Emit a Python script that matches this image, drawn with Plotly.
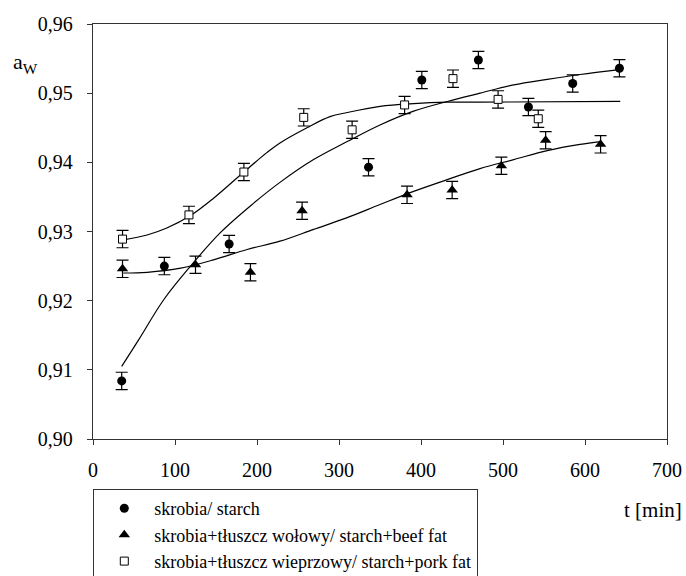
import plotly.graph_objects as go

FONT = "serif"

# measured points (mean) and error bars
starch_t = [35, 87, 166, 336, 401, 470, 531, 585, 642]
starch_aw = [0.9084, 0.9250, 0.9282, 0.9393, 0.9519, 0.9548, 0.9480, 0.9514, 0.9536]

beef_t = [36, 125, 192, 255, 383, 438, 498, 552, 619]
beef_aw = [0.9246, 0.9252, 0.9241, 0.9330, 0.9353, 0.9360, 0.9395, 0.9432, 0.9426]

pork_t = [36, 117, 184, 257, 316, 380, 439, 494, 543]
pork_aw = [0.9289, 0.9324, 0.9386, 0.9465, 0.9447, 0.9483, 0.9521, 0.9491, 0.9463]

err = 0.00125

# fitted curves
starch_fit_t = [35, 56, 86, 119, 155, 196, 228, 269, 310, 350, 391, 432, 472, 513, 554, 594, 642]
starch_fit_aw = [0.9105, 0.9144, 0.9201, 0.9250, 0.9298, 0.9341, 0.9371, 0.9404, 0.9430,
                 0.9454, 0.9474, 0.9488, 0.9500, 0.9512, 0.9520, 0.9527, 0.9534]

beef_fit_t = [37, 66, 107, 147, 188, 228, 269, 310, 350, 391, 432, 472, 513, 554, 594, 619]
beef_fit_aw = [0.9240, 0.9241, 0.9247, 0.9259, 0.9274, 0.9286, 0.9303, 0.9320, 0.9339,
               0.9358, 0.9375, 0.9391, 0.9404, 0.9417, 0.9426, 0.9430]

pork_fit_t = [37, 66, 90, 119, 147, 184, 212, 228, 261, 289, 310, 350, 391, 432, 472, 643]
pork_fit_aw = [0.9288, 0.9295, 0.9305, 0.9323, 0.9348, 0.9386, 0.9414, 0.9428, 0.9450,
               0.9466, 0.9472, 0.9481, 0.9485, 0.9487, 0.9487, 0.9488]

x_ticks = [0, 100, 200, 300, 400, 500, 600, 700]
y_ticks = [0.90, 0.91, 0.92, 0.93, 0.94, 0.95, 0.96]

labels = ["skrobia/ starch",
          "skrobia+tłuszcz wołowy/ starch+beef fat",
          "skrobia+tłuszcz wieprzowy/ starch+pork fat"]

fig = go.Figure()

line_style = dict(color="black", width=1.2, shape="spline", smoothing=1.0)
for ft, fa in [(starch_fit_t, starch_fit_aw), (beef_fit_t, beef_fit_aw), (pork_fit_t, pork_fit_aw)]:
    fig.add_trace(go.Scatter(x=ft, y=fa, mode="lines", line=line_style,
                             showlegend=False, hoverinfo="skip"))

eb = dict(type="constant", value=err, color="black", thickness=1.2, width=6)

fig.add_trace(go.Scatter(x=starch_t, y=starch_aw, mode="markers", name=labels[0],
                         marker=dict(symbol="circle", size=9, color="black"),
                         error_y=eb))
fig.add_trace(go.Scatter(x=beef_t, y=beef_aw, mode="markers", name=labels[1],
                         marker=dict(symbol="triangle-up", size=10, color="black"),
                         error_y=eb))
fig.add_trace(go.Scatter(x=pork_t, y=pork_aw, mode="markers", name=labels[2],
                         marker=dict(symbol="square", size=8, color="white",
                                     line=dict(color="black", width=1)),
                         error_y=eb))

axis_common = dict(showgrid=False, zeroline=False, showline=True, linecolor="#333",
                   linewidth=1.3, mirror=True, ticks="outside", ticklen=5,
                   tickcolor="#333", tickwidth=1.3,
                   tickfont=dict(family=FONT, size=20, color="black"))

fig.update_xaxes(range=[0, 700], tickvals=x_ticks, ticktext=[str(v) for v in x_ticks],
                 ticklabelstandoff=8, **axis_common)
fig.update_yaxes(range=[0.90, 0.96], tickvals=y_ticks,
                 ticktext=[f"{v:.2f}".replace(".", ",") for v in y_ticks],
                 ticklabelstandoff=10, **axis_common)

fig.add_annotation(text="a<sub>W</sub>", xref="paper", yref="paper",
                   x=-0.142, y=0.905, xanchor="left", yanchor="middle",
                   showarrow=False, font=dict(family=FONT, size=22, color="black"))
fig.add_annotation(text="t [min]", xref="paper", yref="paper",
                   x=1.03, y=-0.17, xanchor="right", yanchor="middle",
                   showarrow=False, font=dict(family=FONT, size=21, color="black"))

fig.update_layout(
    width=686, height=576,
    margin=dict(l=93, r=19, t=24, b=137, autoexpand=False),
    paper_bgcolor="white", plot_bgcolor="white",
    showlegend=True,
    legend=dict(x=0, y=-0.12, xanchor="left", yanchor="top",
                bordercolor="#333", borderwidth=1.3, bgcolor="white",
                font=dict(family=FONT, size=18, color="black"),
                itemwidth=50, tracegroupgap=0),
)

fig.write_html("out.html")
